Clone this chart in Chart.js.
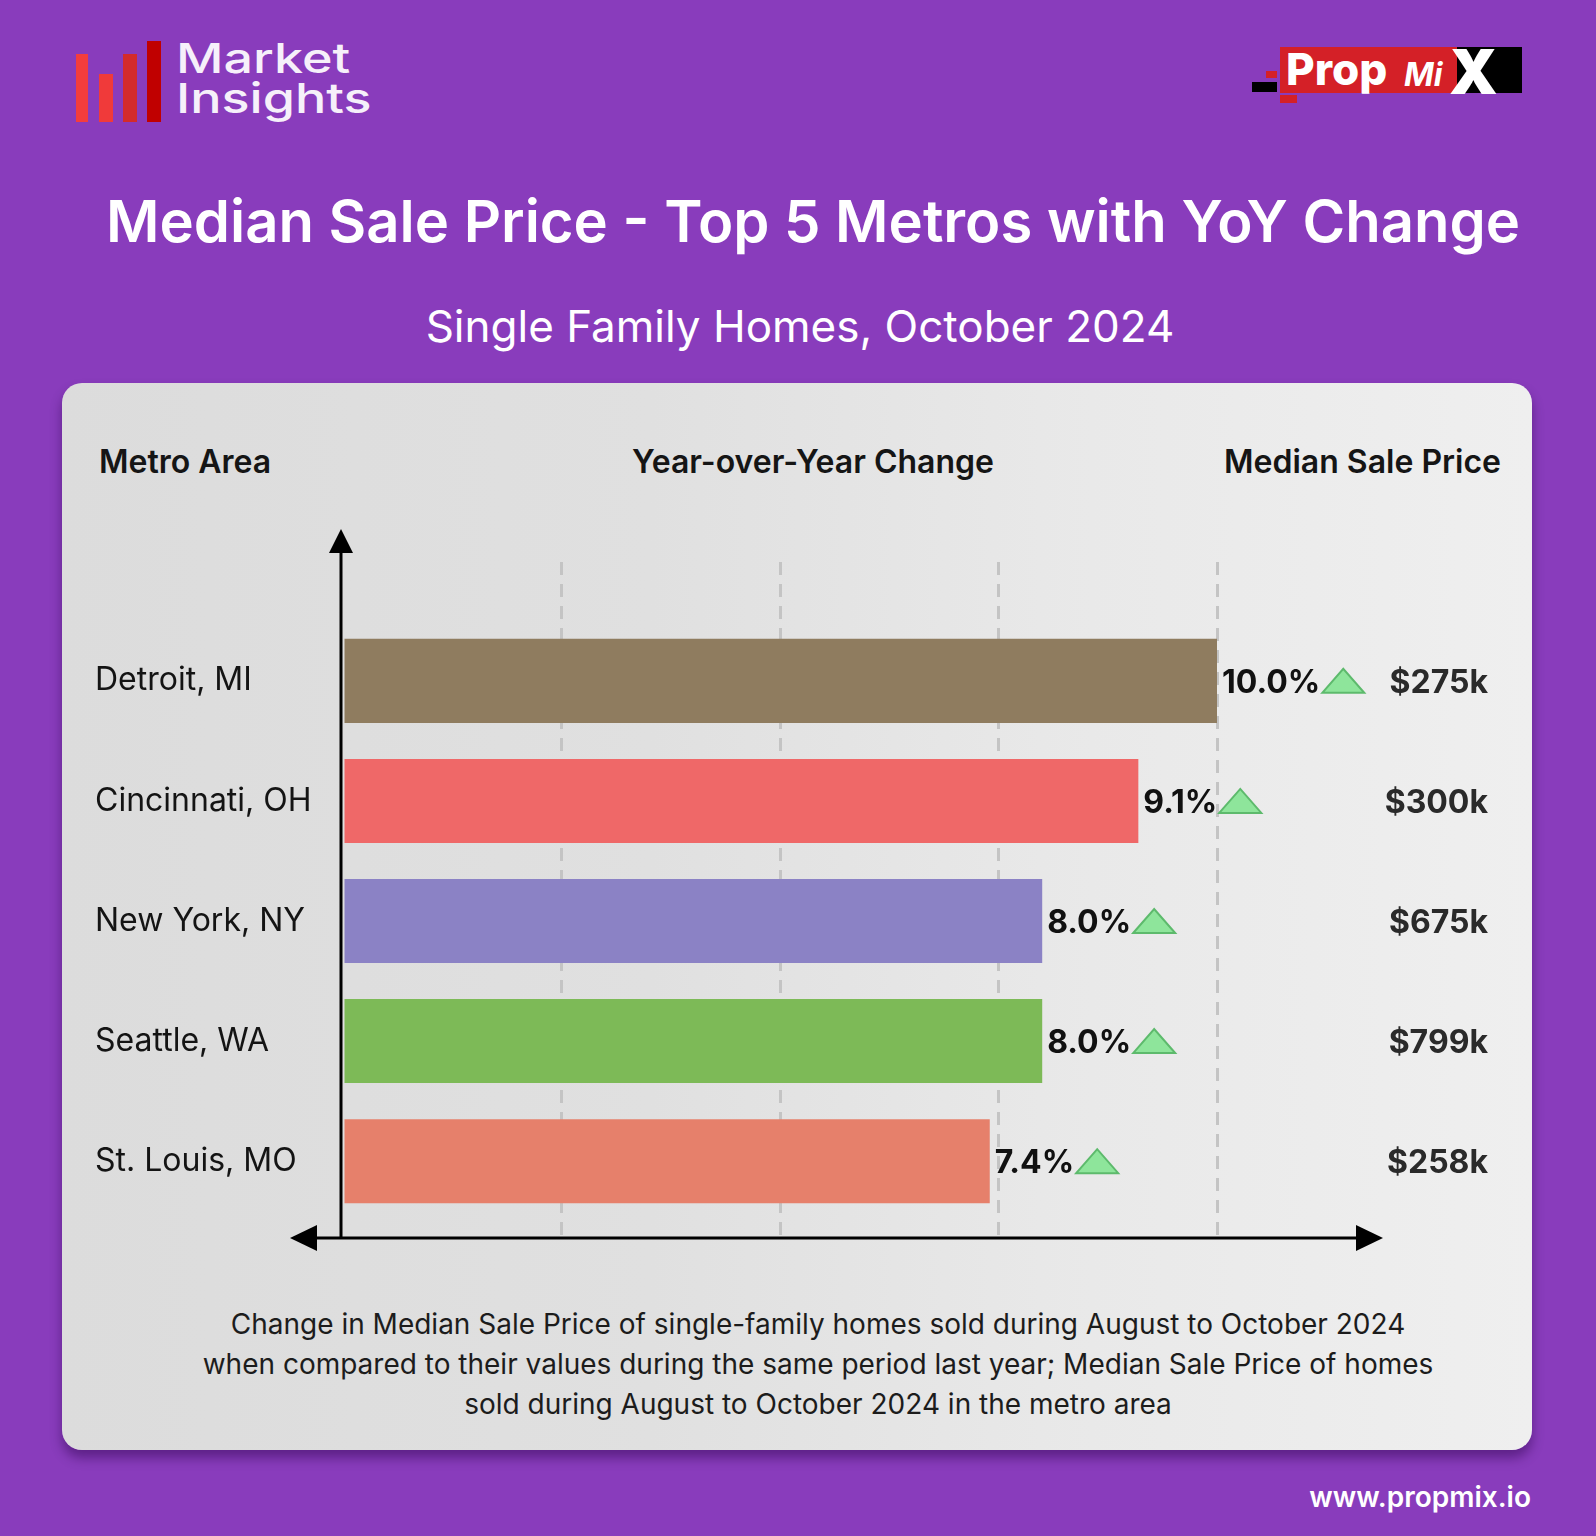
<!DOCTYPE html>
<html>
<head>
<meta charset="utf-8">
<script src="https://cdn.jsdelivr.net/npm/chart.js@4.4.1/dist/chart.umd.min.js"></script>
<style>
  html, body { margin: 0; padding: 0; }
  body {
    width: 1596px; height: 1536px; position: relative; overflow: hidden;
    background: #893cbc; font-family: Inter, "Noto Sans", sans-serif;
  }
  .abs { position: absolute; line-height: 1; white-space: nowrap; }
  .logo-bar { position: absolute; }
  .card {
    position: absolute; left: 62px; top: 383px; width: 1470px; height: 1067px;
    border-radius: 20px;
    background: linear-gradient(90deg, #dcdcdc 0%, #e0e0e0 40%, #e9e9e9 70%, #efefef 100%);
    box-shadow: 0 8px 12px rgba(40, 0, 70, 0.45);
  }
  .hdr { font-size: 32px; font-weight: 600; color: #151515; top: 446px; }
  .mi { left: 176px; font-size: 41px; font-weight: 500; color: #f6f0fa; transform: scaleX(1.27); transform-origin: left; }
  #chart { position: absolute; left: 0; top: 0; }
</style>
</head>
<body>
  <!-- Market Insights logo -->
  <div class="logo-bar" style="left:76px;top:54px;width:12px;height:68px;background:#f43d3d"></div>
  <div class="logo-bar" style="left:99px;top:74px;width:14px;height:48px;background:#f03a3a"></div>
  <div class="logo-bar" style="left:123px;top:54px;width:14px;height:68px;background:#d42b2b"></div>
  <div class="logo-bar" style="left:147px;top:41px;width:14px;height:81px;background:#c00000"></div>
  <div class="abs mi" style="top:38px">Market</div>
  <div class="abs mi" style="top:78px">Insights</div>

  <!-- PropMix logo -->
  <div class="logo-bar" style="left:1280px;top:47px;width:180px;height:46px;background:#d42027"></div>
  <div class="logo-bar" style="left:1457px;top:47px;width:65px;height:46px;background:#000"></div>
  <div class="logo-bar" style="left:1266px;top:71px;width:11px;height:7px;background:#d42027"></div>
  <div class="logo-bar" style="left:1252px;top:82px;width:25px;height:10px;background:#000"></div>
  <div class="logo-bar" style="left:1280px;top:95px;width:17px;height:8px;background:#d42027"></div>
  <div class="abs" style="left:1286px;top:47px;font-size:44px;font-weight:800;color:#fff">Prop</div>
  <div class="abs" style="left:1404px;top:59px;font-size:32px;font-weight:700;font-style:italic;color:#fff">Mi</div>
  <div class="abs" style="left:1449px;top:41px;font-size:62px;font-weight:900;color:#fff">X</div>

  <div class="abs" style="left:813px;top:192px;transform:translateX(-50%);font-size:58px;font-weight:600;color:#fff">Median Sale Price - Top 5 Metros with YoY Change</div>
  <div class="abs" style="left:800px;top:304px;transform:translateX(-50%);font-size:44px;font-weight:400;color:#fff">Single Family Homes, October 2024</div>

  <div class="card"></div>
  <div class="abs hdr" style="left:99px">Metro Area</div>
  <div class="abs hdr" style="left:813px;transform:translateX(-50%)">Year-over-Year Change</div>
  <div class="abs hdr" style="right:95px">Median Sale Price</div>

  <div class="abs" style="left:818px;top:1304px;transform:translateX(-50%);font-size:28px;line-height:40px;color:#1c1c1c;text-align:center">
    Change in Median Sale Price of single-family homes sold during August to October 2024<br>
    when compared to their values during the same period last year; Median Sale Price of homes<br>
    sold during August to October 2024 in the metro area
  </div>
  <div class="abs" style="right:65px;top:1483px;font-size:28px;font-weight:600;color:#fff">www.propmix.io</div>

  <canvas id="chart" width="1596" height="1536"></canvas>

<script>
// ===== Median Sale Price - Top 5 Metros =====
const metros = ["Detroit, MI", "Cincinnati, OH", "New York, NY", "Seattle, WA", "St. Louis, MO"];
const yoyChange = [10.0, 9.1, 8.0, 8.0, 7.4];
const medianPrice = ["$275k", "$300k", "$675k", "$799k", "$258k"];
const barColors = ["#8f7c5f", "#ef6868", "#8b82c5", "#7dba57", "#e6806b"];
const xTicks = [0, 2.5, 5, 7.5, 10];

// arrows for both axes + value / price labels
const annotate = {
  id: "annotate",
  afterDatasetsDraw(chart) {
    const { ctx, chartArea, scales } = chart;
    const x0 = scales.x.getPixelForValue(0) - 2;
    const yb = chartArea.bottom;

    ctx.save();
    ctx.strokeStyle = "#000";
    ctx.fillStyle = "#000";
    ctx.lineWidth = 3;
    // vertical axis
    ctx.beginPath();
    ctx.moveTo(x0, yb);
    ctx.lineTo(x0, chartArea.top - 12);
    ctx.stroke();
    ctx.beginPath();
    ctx.moveTo(x0, chartArea.top - 33);
    ctx.lineTo(x0 - 12, chartArea.top - 9);
    ctx.lineTo(x0 + 12, chartArea.top - 9);
    ctx.closePath();
    ctx.fill();
    // horizontal axis
    const xl = x0 - 51, xr = chartArea.right + 166;
    ctx.beginPath();
    ctx.moveTo(xl + 20, yb);
    ctx.lineTo(xr - 20, yb);
    ctx.stroke();
    ctx.beginPath();
    ctx.moveTo(xl, yb);
    ctx.lineTo(xl + 27, yb - 13);
    ctx.lineTo(xl + 27, yb + 13);
    ctx.closePath();
    ctx.fill();
    ctx.beginPath();
    ctx.moveTo(xr, yb);
    ctx.lineTo(xr - 27, yb - 13);
    ctx.lineTo(xr - 27, yb + 13);
    ctx.closePath();
    ctx.fill();

    // labels
    const meta = chart.getDatasetMeta(0);
    ctx.font = "700 32px Inter";
    ctx.textBaseline = "alphabetic";
    meta.data.forEach((bar, i) => {
      const base = bar.y + 12;
      const txt = yoyChange[i].toFixed(1) + "%";
      ctx.textAlign = "left";
      ctx.fillStyle = "#111";
      ctx.fillText(txt, bar.x + 5, base);
      const tx = bar.x + 5 + ctx.measureText(txt).width + 2;
      ctx.beginPath();
      ctx.moveTo(tx, base);
      ctx.lineTo(tx + 21, base - 24);
      ctx.lineTo(tx + 42, base);
      ctx.closePath();
      ctx.fillStyle = "#8ee59b";
      ctx.fill();
      ctx.strokeStyle = "#5dba6c";
      ctx.lineWidth = 2;
      ctx.stroke();

      ctx.textAlign = "right";
      ctx.fillStyle = "#2a2a2a";
      ctx.fillText(medianPrice[i], chartArea.right + 271, base);
    });
    ctx.restore();
  },
};

new Chart(document.getElementById("chart"), {
  type: "bar",
  data: {
    datasets: [
      {
        data: yoyChange.map((v, i) => ({ x: v, y: i })),
        backgroundColor: barColors,
        borderWidth: 0,
        barPercentage: 0.7,
        categoryPercentage: 1,
      },
    ],
  },
  options: {
    indexAxis: "y",
    responsive: false,
    animation: false,
    events: [],
    layout: { padding: { left: 95, right: 379, top: 562, bottom: 298 } },
    plugins: { legend: { display: false }, tooltip: { enabled: false } },
    scales: {
      x: {
        type: "linear",
        min: 0,
        max: 10,
        afterBuildTicks: (s) => { s.ticks = xTicks.map((v) => ({ value: v })); },
        afterFit: (s) => { s.height = 0; },
        ticks: { display: false },
        grid: {
          drawTicks: false,
          lineWidth: 3,
          color: (c) => (c.tick && c.tick.value === 0 ? "rgba(0,0,0,0)" : "#c4c4c4"),
        },
        border: { display: false, dash: [13, 9] },
      },
      y: {
        type: "linear",
        reverse: true,
        offset: false,
        bounds: "data",
        min: -0.99,
        max: 4.64,
        afterBuildTicks: (s) => { s.ticks = metros.map((_, i) => ({ value: i })); },
        afterFit: (s) => { s.width = 248; },
        grid: { display: false, offset: false },
        border: { display: false },
        ticks: {
          autoSkip: false,
          crossAlign: "far",
          padding: 0,
          color: "#141414",
          font: { family: "Inter", size: 32 },
          callback: (v) => metros[v],
        },
      },
    },
  },
  plugins: [annotate],
});
</script>
</body>
</html>
